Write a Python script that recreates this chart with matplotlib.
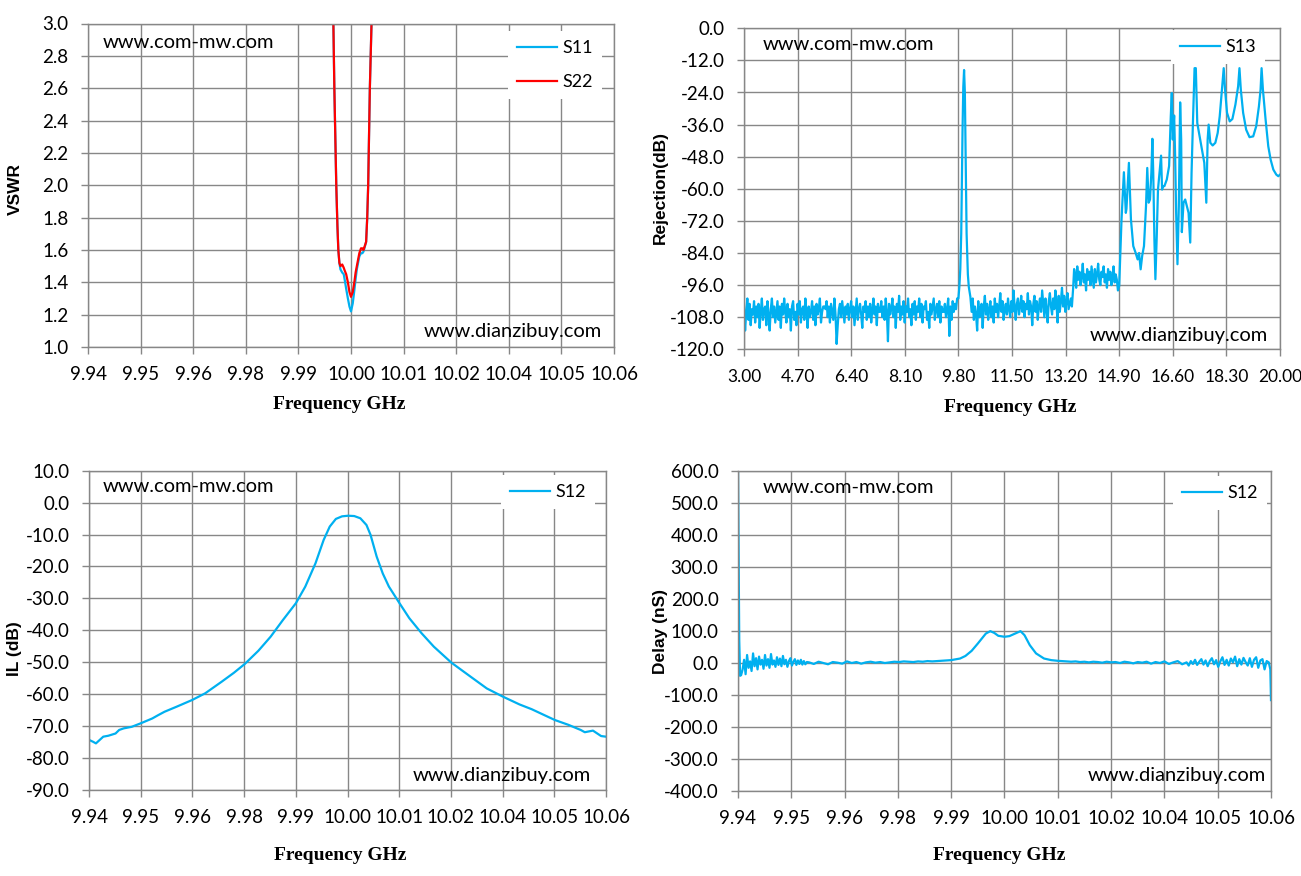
import numpy as np
import matplotlib
matplotlib.use("Agg")
import matplotlib.pyplot as plt
from matplotlib.ticker import FormatStrFormatter

plt.rcParams['font.family'] = ['Lato', 'DejaVu Sans']
plt.rcParams['axes.unicode_minus'] = False

BLUE = '#00B0F0'
RED = '#FF0000'
GRID = '#878787'

# ---------- VSWR (top left) ----------
vswr_freq = [9.9957, 9.99598, 9.9962, 9.99664, 9.9969, 9.99711, 9.99735, 9.99759,
             9.9980, 9.99834, 9.9986, 9.9989, 9.99929, 9.99965, 10.0000, 10.0004,
             10.00076, 10.00105, 10.00133, 10.0019, 10.00228, 10.0026, 10.00285,
             10.00345, 10.0037, 10.00392, 10.0043, 10.00468, 10.0049]
s11_vswr = [3.4, 3.0, 2.6, 2.0, 1.75, 1.6, 1.52, 1.48, 1.46, 1.45, 1.41, 1.36, 1.30,
            1.25, 1.22, 1.27, 1.35, 1.42, 1.48, 1.56, 1.58, 1.58, 1.59, 1.65, 1.8,
            2.0, 2.6, 3.0, 3.4]
s22_vswr = [3.4, 3.0, 2.6, 2.0, 1.75, 1.6, 1.52, 1.50, 1.51, 1.49, 1.47, 1.45, 1.40,
            1.34, 1.31, 1.34, 1.40, 1.46, 1.50, 1.58, 1.61, 1.61, 1.60, 1.65, 1.8,
            2.0, 2.6, 3.0, 3.4]

# ---------- S13 rejection (top right) ----------
floor1_db = [-104, -113, -106, -101, -109, -103, -111, -105, -107, -102, -110, -104,
             -108, -103, -112, -106, -101, -109, -105, -104, -111, -102, -107, -113,
             -105, -101, -108, -104, -110, -106, -102, -109, -104, -112, -103, -107,
             -101, -106, -110, -103, -108, -105, -113, -104, -102, -109, -106, -111,
             -103, -107, -102, -110, -105, -104, -109, -101, -106, -112, -104, -108,
             -106, -102, -109, -104, -111, -103, -107, -105, -101, -110, -106, -104,
             -104, -105, -102, -108, -104, -110, -103, -106, -109, -101, -107, -118,
             -111, -105, -103, -108, -102, -106, -110, -104, -107, -103, -109, -105,
             -102, -108, -104, -111, -106, -101, -109, -105, -103, -107, -112, -104,
             -106, -102, -109, -104, -108, -103, -110, -105, -101, -107, -104, -111,
             -103, -106, -106, -102, -108, -104, -109, -101, -106, -117, -103, -107,
             -105, -101, -108, -104, -112, -103, -106, -100, -109, -104, -107, -102,
             -110, -104, -106, -101, -108, -105, -111, -103, -107, -102, -109, -104,
             -106, -101, -108, -103, -110, -104, -105, -102, -109, -106, -112, -103,
             -107, -104, -101, -109, -105, -103, -108, -102, -110, -104, -106, -106,
             -103, -108, -105, -101, -115, -104, -109, -102, -106, -103, -105, -101]
floor1_freq = np.linspace(3.0, 9.76, len(floor1_db))

peak1_freq = [9.80, 9.83, 9.86, 9.89, 9.93, 9.955, 9.98, 10.005, 10.02, 10.06, 10.10, 10.13, 10.18]
peak1_db = [-101, -96.7, -90, -76.7, -39, -22, -15.6, -24, -39, -76.7, -92, -96.7, -100.4]

floor2_db = [-106, -101, -109, -104, -107, -113, -102, -108, -105, -103, -112, -104,
             -100, -107, -103, -109, -105, -102, -108, -104, -110, -101, -106, -103,
             -108, -104, -99, -106, -102, -109, -105, -103, -107, -101, -105, -108,
             -102, -106, -98, -104, -109, -103, -101, -107, -104, -100, -106, -102,
             -108, -103, -105, -99, -107, -102, -104, -111, -103, -100, -106, -102,
             -109, -104, -101, -106, -98, -103, -108, -101, -105, -110, -102, -99,
             -104, -107, -101, -105, -98, -103, -110, -100, -106, -102, -97, -104,
             -100, -106, -102, -99, -105, -103, -101, -104]
floor2_freq = np.linspace(10.22, 13.40, len(floor2_db))

step_freq = [13.44, 13.47]
step_db = [-97, -90]

floor3_db = [-92, -97, -89, -94, -91, -96, -93, -88, -95, -92, -98, -90, -94, -91,
             -96, -89, -93, -97, -90, -95, -92, -88, -94, -96, -91, -93, -89, -95,
             -92, -97, -90, -94, -91, -96, -93, -89, -95, -92, -94, -98]
floor3_freq = np.linspace(13.50, 14.86, len(floor3_db))

res_freq = [14.90, 14.974, 15.049, 15.11, 15.13, 15.208, 15.272, 15.346, 15.42, 15.484,
            15.53, 15.58, 15.63, 15.686, 15.75, 15.79, 15.835, 15.877, 15.92, 15.952,
            15.98, 16.016, 16.048, 16.09, 16.13, 16.228, 16.26, 16.29, 16.334, 16.41,
            16.483, 16.536, 16.568, 16.60, 16.643, 16.674, 16.706, 16.748, 16.791, 16.833,
            16.866, 16.887, 16.94, 16.993, 17.046, 17.10, 17.153, 17.195, 17.238, 17.29,
            17.33, 17.376, 17.43, 17.524, 17.599, 17.663, 17.705, 17.737, 17.79, 17.864,
            17.949, 18.024, 18.088, 18.16, 18.215, 18.257, 18.32, 18.406, 18.49, 18.586,
            18.672, 18.714, 18.757, 18.831, 18.927, 19.033, 19.15, 19.246, 19.331, 19.384,
            19.416, 19.458, 19.543, 19.628, 19.703, 19.788, 19.883, 19.947, 20.0]
res_db = [-96.3, -71.4, -53.8, -69.0, -67.5, -50.3, -71.4, -81.4, -83.9, -86.4,
          -84.0, -90.1, -85.0, -81.4, -66.5, -52.2, -65.2, -64.0, -54.0, -41.3,
          -54.0, -78.9, -93.8, -78.0, -60.3, -47.6, -60.3, -59.0, -59.0, -56.5,
          -51.5, -32.9, -24.2, -41.6, -32.6, -47.8, -69.0, -88.2, -66.5, -27.7,
          -41.6, -76.2, -65.2, -64.0, -66.5, -69.0, -80.1, -54.0, -35.4, -14.9,
          -14.9, -35.4, -39.1, -45.3, -50.3, -65.2, -41.6, -36.0, -42.8, -43.8,
          -42.8, -39.1, -32.9, -22.9, -14.9, -22.9, -31.6, -34.8, -33.9, -28.5,
          -21.7, -14.9, -22.9, -31.6, -37.9, -40.7, -40.4, -36.6, -29.2, -22.9,
          -14.9, -22.9, -34.1, -44.1, -49.1, -52.8, -54.7, -55.3, -54.7]

# ---------- S12 insertion loss (bottom left) ----------
il_freq = [9.94000, 9.94095, 9.94161, 9.94331, 9.94450, 9.94616, 9.94700, 9.94805,
           9.94994, 9.95203, 9.95468, 9.95600, 9.95752, 9.96036, 9.96396, 9.96699,
           9.97078, 9.97362, 9.97618, 9.97931, 9.98215, 9.98499, 9.98802, 9.99020,
           9.99257, 9.99446, 9.99588, 9.99730, 9.99872, 10.00014, 10.00156, 10.00298,
           10.00440, 10.00535, 10.00677, 10.00819, 10.00961, 10.01207, 10.01435,
           10.01719, 10.02003, 10.02410, 10.02856, 10.03234, 10.03613, 10.03992,
           10.04276, 10.04561, 10.04816, 10.05129, 10.05413, 10.05508, 10.05697,
           10.05886, 10.06000]
il_db = [-74.3, -74.9, -75.4, -73.3, -73.0, -72.3, -71.2, -70.7,
         -70.2, -69.1, -67.6, -66.6, -65.5, -63.9, -61.8, -59.7,
         -56.1, -53.3, -50.5, -46.4, -42.0, -36.8, -31.5, -26.3,
         -19.0, -11.7, -7.5, -5.1, -4.3, -4.1, -4.2, -4.9,
         -7.0, -10.1, -16.9, -22.2, -26.3, -31.5, -36.2,
         -40.9, -45.1, -50.1, -54.5, -58.2, -60.8, -63.2,
         -64.7, -66.5, -68.1, -69.6, -71.2, -71.9, -71.4,
         -73.1, -73.3]

# ---------- S12 group delay (bottom right) ----------
dly_start_freq = [9.94000, 9.94028, 9.94047]
dly_start_ns = [600, 71, -40]
dly_noise1_ns = [-38, -20, 10, -35, 25, -15, 5, -25, 30, -10, 15, -20, 20, -5, 10,
                 -18, 25, -8, 12, -15, 28, -5, 8, -12, 18, -6, 14, -10, 22, -4,
                 10, -12, 6, 15, -8, 4, 12, -6, 8, -3, 10, -5, 6, -4, 3]
dly_noise1_freq = np.linspace(9.9407, 9.9555, len(dly_noise1_ns))
dly_flat1_ns = [2, -3, 4, 0, -4, 3, 1, -2, 5, 0, 3, -2, 2, 4, 1, 3, 0, 2, 4, 3,
                5, 4, 3, 5, 4, 6, 5, 6, 7, 8, 9]
dly_flat1_freq = np.linspace(9.956, 9.988, len(dly_flat1_ns))
dly_peak_freq = [9.9900, 9.9912, 9.9926, 9.9940, 9.9950, 9.9958, 9.9968, 9.9977,
                 9.9986, 10.0000, 10.0011, 10.0024, 10.0036, 10.0045, 10.0057,
                 10.0071, 10.0089, 10.0105, 10.0121]
dly_peak_ns = [14, 22, 38, 61, 78, 92, 99.5, 94, 85, 82, 84, 92, 99.5, 87, 55.7,
               30, 14, 9, 6.7]
dly_flat2_ns = [6, 5, 4, 5, 3, 4, 2, 4, 3, 1, 4, 2, 3, 0, 4, 2, -1, 3, 1, 4,
                -2, 3, 0, 5, -3, 2, 6, -4]
dly_flat2_freq = np.linspace(10.013, 10.040, len(dly_flat2_ns))
dly_noise2_ns = [2, -8, 6, -3, 10, -6, 4, 12, -5, 8, -10, 6, 15, -4, 9, -12, 5, 18,
                 -6, 10, -8, 14, 2, 20, -10, 12, -5, 16, 3, -8, 15, -12, 10, 18,
                 -15, 8, 12, -20, 6, 2]
dly_noise2_freq = np.linspace(10.041, 10.0595, len(dly_noise2_ns))
dly_end_freq = [10.05985, 10.06000]
dly_end_ns = [-20, -116]

# ---------- axis ticks ----------
narrow_ticks = np.linspace(9.94, 10.06, 11)
narrow_labels = ['9.94', '9.95', '9.96', '9.98', '9.99', '10.00', '10.01', '10.02',
                 '10.04', '10.05', '10.06']
wide_ticks = np.linspace(3.0, 20.0, 11)
wide_labels = ['3.00', '4.70', '6.40', '8.10', '9.80', '11.50', '13.20', '14.90',
               '16.60', '18.30', '20.00']
vswr_yticks = np.arange(1.0, 3.01, 0.2)
rej_yticks = np.arange(-120, 1, 12)
il_yticks = np.arange(-90, 11, 10)
dly_yticks = np.arange(-400, 601, 100)

W, H = 1301, 876
fig = plt.figure(figsize=(W / 100, H / 100), dpi=100)


def add_axes_px(x0, x1, y0, y1):
    return fig.add_axes([x0 / W, 1 - y1 / H, (x1 - x0) / W, (y1 - y0) / H])


def style(ax, xticks, xlabels, yticks):
    ax.set_xlim(xticks[0], xticks[-1])
    ax.set_ylim(yticks[0], yticks[-1])
    ax.set_xticks(xticks, xlabels)
    ax.set_yticks(yticks)
    ax.yaxis.set_major_formatter(FormatStrFormatter('%.1f'))
    ax.grid(True, color=GRID, lw=1)
    ax.set_axisbelow(True)
    for s in ax.spines.values():
        s.set_color(GRID)
        s.set_linewidth(1)
    ax.tick_params(direction='out', length=5, width=1, color=GRID,
                   labelsize=13.5, pad=9, labelcolor='black')


def legend(ax, cx, cy, spacing=0.5):
    leg = ax.legend(loc='center', bbox_to_anchor=(cx, cy), frameon=True,
                    fontsize=13, handlelength=2.2, handletextpad=0.3,
                    labelspacing=spacing, borderpad=0.5, fancybox=False)
    leg.get_frame().set_edgecolor('none')
    leg.get_frame().set_facecolor('white')
    leg.get_frame().set_alpha(1)


def marks(xl, yl, xr, yr):
    fig.text(xl / W, 1 - yl / H, 'www.com-mw.com', fontsize=14.5, ha='left', va='center')
    fig.text(xr / W, 1 - yr / H, 'www.dianzibuy.com', fontsize=14.5, ha='right', va='center')


def labels(xlx, xly, xtext, ylx, yly, ytext):
    fig.text(xlx / W, 1 - xly / H, xtext, fontsize=14, ha='center', va='center',
             family='Liberation Serif', fontweight='bold')
    fig.text(ylx / W, 1 - yly / H, ytext, fontsize=12.5, ha='center', va='center',
             family='Liberation Sans', fontweight='bold', rotation=90)


# top left: VSWR
ax1 = add_axes_px(88, 614, 23.5, 347)
ax1.plot(vswr_freq, s11_vswr, color=BLUE, lw=1.6, label='S11')
ax1.plot(vswr_freq, s22_vswr, color=RED, lw=1.6, label='S22')
style(ax1, narrow_ticks, narrow_labels, vswr_yticks)
legend(ax1, 0.888, 0.872, spacing=1.0)
marks(103, 42, 602, 332)
labels(339, 405, 'Frequency GHz', 15, 189, 'VSWR')

# top right: rejection
rej_freq = np.concatenate([floor1_freq, peak1_freq, floor2_freq, step_freq, floor3_freq, res_freq])
rej_db = np.concatenate([floor1_db, peak1_db, floor2_db, step_db, floor3_db, res_db])
ax2 = add_axes_px(744, 1280, 28.3, 349.3)
ax2.plot(rej_freq, rej_db, color=BLUE, lw=1.6, label='S13')
style(ax2, wide_ticks, wide_labels, rej_yticks)
ax2.tick_params(axis='x', labelsize=12.5)
legend(ax2, 0.884, 0.942)
marks(763, 44, 1268, 336)
labels(1010, 408, 'Frequency GHz', 660, 188, 'Rejection(dB)')

# bottom left: insertion loss
ax3 = add_axes_px(89, 606, 470.7, 790)
ax3.plot(il_freq, il_db, color=BLUE, lw=1.6, label='S12')
style(ax3, narrow_ticks, narrow_labels, il_yticks)
legend(ax3, 0.888, 0.933)
marks(103, 486, 591, 775)
labels(340, 855, 'Frequency GHz', 15, 649, 'IL (dB)')

# bottom right: delay
dly_freq = np.concatenate([dly_start_freq, dly_noise1_freq, dly_flat1_freq, dly_peak_freq,
                           dly_flat2_freq, dly_noise2_freq, dly_end_freq])
dly_ns = np.concatenate([dly_start_ns, dly_noise1_ns, dly_flat1_ns, dly_peak_ns,
                         dly_flat2_ns, dly_noise2_ns, dly_end_ns])
ax4 = add_axes_px(738, 1271, 471, 791)
ax4.plot(dly_freq, dly_ns, color=BLUE, lw=1.6, label='S12')
style(ax4, narrow_ticks, narrow_labels, dly_yticks)
legend(ax4, 0.904, 0.931)
marks(763, 487, 1266, 775)
labels(999, 856, 'Frequency GHz', 660, 631, 'Delay (nS)')

fig.savefig('out.png', dpi=100)
